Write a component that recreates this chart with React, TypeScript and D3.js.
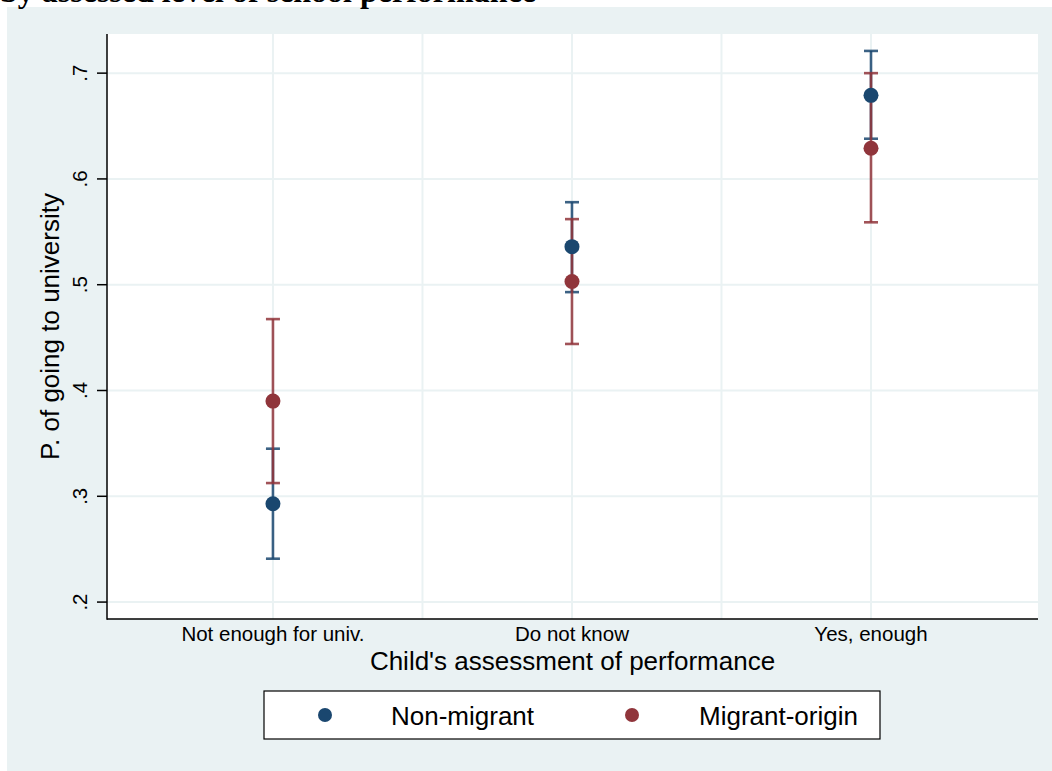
import React from "react";
import * as d3 from "d3";

// categories on the x axis (positions 1, 2, 3)
const categories = ["Not enough for univ.", "Do not know", "Yes, enough"];
const catPos = [1, 2, 3];

// predicted probabilities and 95% CIs
const nonMigrant = [0.293, 0.536, 0.679];
const nonMigrantLo = [0.241, 0.493, 0.638];
const nonMigrantHi = [0.345, 0.578, 0.721];

const migrant = [0.39, 0.503, 0.629];
const migrantLo = [0.3125, 0.444, 0.559];
const migrantHi = [0.4675, 0.562, 0.7];

const yTicks = [0.2, 0.3, 0.4, 0.5, 0.6, 0.7];
const yTickLabels = [".2", ".3", ".4", ".5", ".6", ".7"];
const xGrid = [1, 1.5, 2, 2.5, 3];

const seriesNames = ["Non-migrant", "Migrant-origin"];
const BLUE = "#1a476f";
const RED = "#90353b";
const BG = "#eaf2f3";
const FONT = "'Liberation Sans', Arial, Helvetica, sans-serif";

export default function App() {
  const W = 1052, H = 771;
  const plot = { left: 107, top: 34, right: 1038, bottom: 619 };

  const x = d3.scaleLinear().domain([0.445, 3.5585]).range([plot.left, plot.right]);
  const y = d3.scaleLinear().domain([0.184, 0.737]).range([plot.bottom, plot.top]);

  const series = [
    { name: seriesNames[0], color: BLUE, est: nonMigrant, lo: nonMigrantLo, hi: nonMigrantHi },
    { name: seriesNames[1], color: RED, est: migrant, lo: migrantLo, hi: migrantHi },
  ];

  const cap = 7;

  return (
    <svg width={W} height={H} style={{ position: "absolute", left: 0, top: 0 }}>
      <rect x={0} y={0} width={W} height={H} fill="#fff" />
      <rect x={7} y={7} width={W - 7} height={H - 7} fill={BG} />
      {/* title is clipped at the top edge, as in the source graph */}
      <text x={0} y={2} fontFamily="'Liberation Serif', 'Times New Roman', serif" fontWeight="bold" fontSize={32} fill="#000">
        by assessed level of school performance
      </text>

      {/* plot region */}
      <rect x={plot.left} y={plot.top} width={plot.right - plot.left} height={plot.bottom - plot.top} fill="#fff" />

      {/* grid */}
      {yTicks.map((t) => (
        <line key={"gy" + t} x1={plot.left} x2={plot.right} y1={y(t)} y2={y(t)} stroke={BG} strokeWidth={2} />
      ))}
      {xGrid.map((t) => (
        <line key={"gx" + t} x1={x(t)} x2={x(t)} y1={plot.top} y2={plot.bottom} stroke={BG} strokeWidth={2} />
      ))}

      {/* error bars */}
      {series.map((s) =>
        catPos.map((c, i) => (
          <g key={s.name + "ci" + i} stroke={s.color} strokeWidth={2.6} strokeOpacity={0.85}>
            <line x1={x(c)} x2={x(c)} y1={y(s.lo[i])} y2={y(s.hi[i])} />
            <line x1={x(c) - cap} x2={x(c) + cap} y1={y(s.lo[i])} y2={y(s.lo[i])} />
            <line x1={x(c) - cap} x2={x(c) + cap} y1={y(s.hi[i])} y2={y(s.hi[i])} />
          </g>
        ))
      )}

      {/* points */}
      {series.map((s) =>
        catPos.map((c, i) => (
          <circle key={s.name + "pt" + i} cx={x(c)} cy={y(s.est[i])} r={7.5} fill={s.color} />
        ))
      )}

      {/* axes */}
      <line x1={plot.left} x2={plot.left} y1={plot.top} y2={plot.bottom + 0.75} stroke="#000" strokeWidth={1.5} />
      <line x1={plot.left} x2={plot.right} y1={plot.bottom} y2={plot.bottom} stroke="#000" strokeWidth={1.5} />
      {yTicks.map((t, i) => (
        <g key={"yt" + t}>
          <line x1={plot.left - 10} x2={plot.left} y1={y(t)} y2={y(t)} stroke="#000" strokeWidth={1.5} />
          <text
            transform={`translate(87,${y(t)}) rotate(-90)`}
            textAnchor="middle"
            fontFamily={FONT}
            fontSize={20.5}
            fill="#000"
          >
            {yTickLabels[i]}
          </text>
        </g>
      ))}
      {categories.map((c, i) => (
        <text key={c} x={x(catPos[i])} y={641} textAnchor="middle" fontFamily={FONT} fontSize={20.5} fill="#000">
          {c}
        </text>
      ))}

      {/* axis titles */}
      <text x={(plot.left + plot.right) / 2} y={670} textAnchor="middle" fontFamily={FONT} fontSize={26} fill="#000">
        Child's assessment of performance
      </text>
      <text
        transform={`translate(59,${(plot.top + plot.bottom) / 2}) rotate(-90)`}
        textAnchor="middle"
        fontFamily={FONT}
        fontSize={26}
        fill="#000"
      >
        P. of going to university
      </text>

      {/* legend */}
      <rect x={264} y={691} width={616} height={48} fill="#fff" stroke="#000" strokeWidth={1.2} />
      <circle cx={325} cy={715} r={7} fill={BLUE} />
      <text x={391} y={725} fontFamily={FONT} fontSize={26} fill="#000">{seriesNames[0]}</text>
      <circle cx={632} cy={715} r={7} fill={RED} />
      <text x={699} y={725} fontFamily={FONT} fontSize={26} fill="#000">{seriesNames[1]}</text>
    </svg>
  );
}
